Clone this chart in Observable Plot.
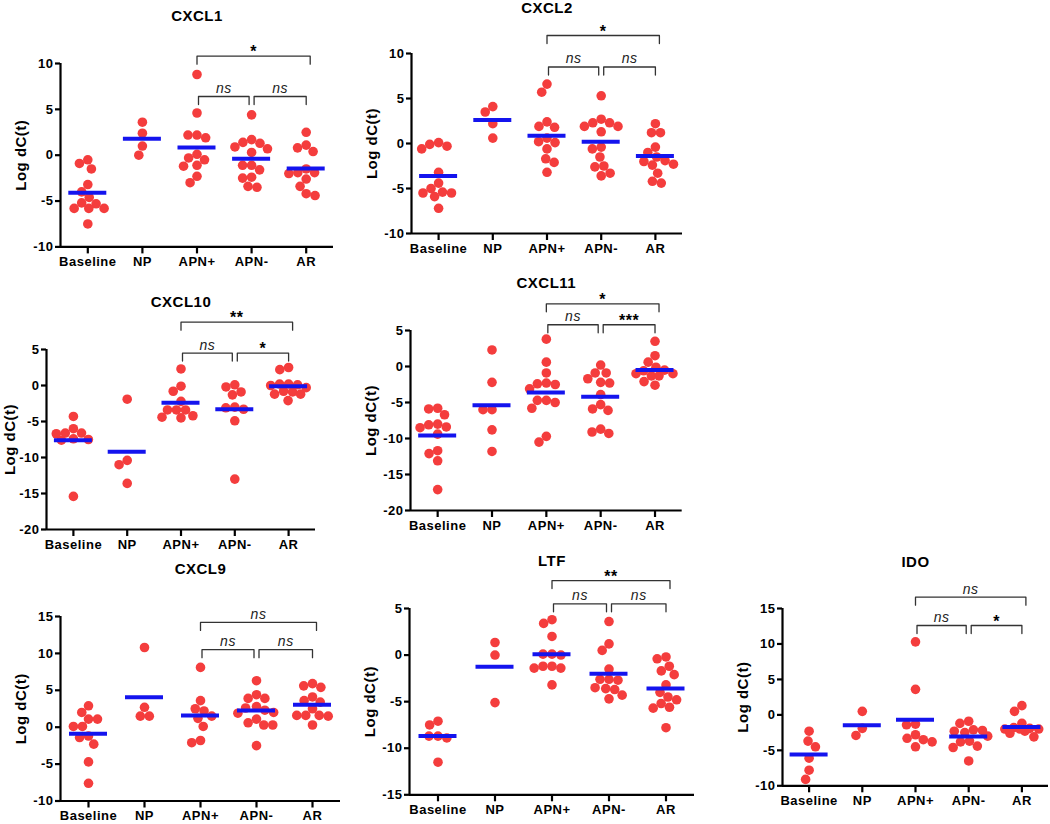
<!DOCTYPE html>
<html>
<head>
<meta charset="utf-8">
<script src="https://cdn.jsdelivr.net/npm/d3@7"></script>
<script src="https://cdn.jsdelivr.net/npm/@observablehq/plot@0.6"></script>
<style>
  html, body { margin: 0; padding: 0; background: #fff; }
  #page { position: relative; width: 1050px; height: 824px; overflow: hidden; background: #fff; }
  .panel { position: absolute; }
  .panel svg { display: block; max-width: none; overflow: visible; }
  .panel text { letter-spacing: 0.5px; }
</style>
</head>
<body>
<div id="page"></div>
<script>
// ---------------- DATA ----------------
const groups = ["Baseline", "NP", "APN+", "APN-", "AR"];
const yLabel = "Log dC(t)";

const cxcl1Values = {
  "Baseline": [-0.5, -0.9, -1.5, -3.2, -4.0, -4.6, -5.3, -5.2, -5.8, -5.8, -5.8, -7.5],
  "NP": [3.6, 2.4, 1.0, 0.0],
  "APN+": [8.8, 4.6, 2.2, 1.9, 2.2, 0.1, -0.5, -0.3, -1.2, -1.1, -2.3, -3.0],
  "APN-": [4.4, 1.4, 1.7, 1.3, 0.9, 0.7, 0.3, -1.1, -1.1, -1.6, -2.5, -2.4, -3.5, -3.4],
  "AR": [2.5, 1.1, 0.8, 0.4, -1.5, -1.9, -2.0, -1.9, -2.6, -3.4, -4.4, -4.2]
};
const cxcl1Means = [-4.1, 1.8, 0.85, -0.4, -1.45];
const cxcl1Brackets = [
  {from: "APN+", to: "AR", label: "*", y: 10.8},
  {from: "APN+", to: "APN-", label: "ns", y: 6.4},
  {from: "APN-", to: "AR", label: "ns", y: 6.4}
];
const cxcl1Ticks = [-10, -5, 0, 5, 10];

const cxcl2Values = {
  "Baseline": [-0.1, -0.6, -0.3, 0.1, -3.2, -4.4, -5.4, -5.5, -5.9, -5.5, -5.0, -7.2],
  "NP": [3.5, 4.1, 2.2, 0.6],
  "APN+": [6.6, 5.7, 1.9, 1.8, 2.4, 0.2, 0.1, 0.6, -0.6, -1.7, -2.1, -3.2],
  "APN-": [5.3, 2.3, 2.7, 1.9, 1.9, 2.3, 1.3, -0.4, -1.5, -0.6, -2.6, -2.5, -3.6, -3.3],
  "AR": [2.2, 1.2, 1.2, -0.4, -1.5, -1.0, -1.9, -2.0, -2.4, -2.3, -3.3, -4.4, -4.2]
};
const cxcl2Means = [-3.6, 2.6, 0.85, 0.2, -1.4];
const cxcl2Brackets = [
  {from: "APN+", to: "AR", label: "*", y: 12.0},
  {from: "APN+", to: "APN-", label: "ns", y: 8.5},
  {from: "APN-", to: "AR", label: "ns", y: 8.5}
];
const cxcl2Ticks = [-10, -5, 0, 5, 10];

const cxcl10Values = {
  "Baseline": [-4.3, -6.7, -6.0, -6.6, -6.6, -7.5, -7.6, -7.4, -15.4],
  "NP": [-1.9, -10.4, -11.0, -13.6],
  "APN+": [2.3, -0.1, -0.8, -2.2, -3.4, -3.4, -3.4, -4.2, -4.4, -4.5],
  "APN-": [0.1, -0.2, -0.9, -1.3, -3.0, -3.3, -3.1, -4.9, -13.0],
  "AR": [2.5, 2.2, 0.2, 0.0, 0.2, 0.1, -0.9, -1.2, -1.2, -0.8, -2.1, -0.3]
};
const cxcl10Means = [-7.6, -9.2, -2.4, -3.3, -0.1];
const cxcl10Brackets = [
  {from: "APN+", to: "AR", label: "**", y: 8.8},
  {from: "APN+", to: "APN-", label: "ns", y: 4.5},
  {from: "APN-", to: "AR", label: "*", y: 4.5}
];
const cxcl10Ticks = [-20, -15, -10, -5, 0, 5];

const cxcl11Values = {
  "Baseline": [-5.9, -5.8, -6.7, -8.0, -8.4, -8.1, -8.5, -9.4, -12.1, -11.7, -13.1, -17.1],
  "NP": [2.3, -2.2, -6.0, -6.0, -8.8, -11.8],
  "APN+": [3.8, 0.6, -0.9, -2.4, -3.1, -2.5, -2.3, -4.7, -5.0, -4.7, -5.8, -10.5, -9.7],
  "APN-": [0.2, -0.9, -0.9, -2.2, -2.3, -1.7, -3.9, -5.3, -5.9, -6.1, -8.7, -9.3, -9.1],
  "AR": [3.5, 1.5, 0.6, -1.3, -1.0, -0.6, -1.3, -1.0, -2.1, -2.6, -0.1, -0.5]
};
const cxcl11Means = [-9.6, -5.4, -3.6, -4.2, -0.5];
const cxcl11Brackets = [
  {from: "APN+", to: "AR", label: "*", y: 8.7},
  {from: "APN+", to: "APN-", label: "ns", y: 5.8},
  {from: "APN-", to: "AR", label: "***", y: 5.8}
];
const cxcl11Ticks = [-20, -15, -10, -5, 0, 5];

const cxcl9Values = {
  "Baseline": [2.9, 2.0, 1.1, 1.1, 0.1, 0.1, -1.2, -1.4, -2.3, -4.7, -7.6],
  "NP": [10.8, 2.7, 1.5, 1.5],
  "APN+": [8.1, 3.6, 2.2, 2.5, 1.2, 1.5, 0.1, -2.1, -1.8],
  "APN-": [6.3, 3.9, 3.9, 4.4, 2.3, 2.6, 2.8, 1.9, 1.1, 0.3, 0.3, 0.6, -2.5, 2.0],
  "AR": [5.9, 5.4, 5.6, 3.6, 4.1, 3.4, 2.5, 1.6, 1.6, 1.5, 1.6, 0.3]
};
const cxcl9Means = [-0.9, 4.05, 1.6, 2.25, 3.05];
const cxcl9Brackets = [
  {from: "APN+", to: "AR", label: "ns", y: 14.2},
  {from: "APN+", to: "APN-", label: "ns", y: 10.5},
  {from: "APN-", to: "AR", label: "ns", y: 10.5}
];
const cxcl9Ticks = [-10, -5, 0, 5, 10, 15];

const ltfValues = {
  "Baseline": [-7.1, -7.5, -8.7, -8.9, -8.7, -11.5],
  "NP": [1.35, 0.0, -5.1],
  "APN+": [3.8, 3.4, 2.0, 0.0, 0.1, 0.1, -1.2, -1.4, -1.4, -1.2, -3.2],
  "APN-": [3.6, 1.2, 0.5, -1.5, -2.6, -2.7, -2.6, -3.5, -3.7, -3.6, -4.3, -4.7],
  "AR": [-0.2, -0.4, -1.2, -1.7, -2.1, -3.2, -4.0, -4.5, -4.8, -5.6, -5.7, -5.2, -7.8]
};
const ltfMeans = [-8.7, -1.25, 0.1, -2.0, -3.6];
const ltfBrackets = [
  {from: "APN+", to: "AR", label: "**", y: 8.0},
  {from: "APN+", to: "APN-", label: "ns", y: 5.5},
  {from: "APN-", to: "AR", label: "ns", y: 5.5}
];
const ltfTicks = [-15, -10, -5, 0, 5];

const idoValues = {
  "Baseline": [-2.3, -3.7, -4.5, -6.1, -7.8, -9.1],
  "NP": [0.5, -2.9, -1.9],
  "APN+": [10.3, 3.6, -1.4, -1.3, -2.8, -3.5, -3.3, -3.8, -4.5],
  "APN-": [-0.9, -1.2, -2.2, -2.3, -2.5, -3.0, -3.7, -3.8, -4.4, -4.6, -6.5, -2.1],
  "AR": [1.3, 0.5, -1.2, -1.8, -2.0, -2.0, -3.1, -2.3, -1.9, -2.0, -2.6]
};
const idoMeans = [-5.6, -1.45, -0.7, -3.05, -1.7];
const idoBrackets = [
  {from: "APN+", to: "AR", label: "ns", y: 16.6},
  {from: "APN+", to: "APN-", label: "ns", y: 12.6},
  {from: "APN-", to: "AR", label: "*", y: 12.6}
];
const idoTicks = [-10, -5, 0, 5, 10, 15];

// ---------------- PANELS ----------------
const panels = [
  {title: "CXCL1",  values: cxcl1Values,  means: cxcl1Means,  brackets: cxcl1Brackets,  ticks: cxcl1Ticks},
  {title: "CXCL2",  values: cxcl2Values,  means: cxcl2Means,  brackets: cxcl2Brackets,  ticks: cxcl2Ticks},
  {title: "CXCL10", values: cxcl10Values, means: cxcl10Means, brackets: cxcl10Brackets, ticks: cxcl10Ticks},
  {title: "CXCL11", values: cxcl11Values, means: cxcl11Means, brackets: cxcl11Brackets, ticks: cxcl11Ticks},
  {title: "CXCL9",  values: cxcl9Values,  means: cxcl9Means,  brackets: cxcl9Brackets,  ticks: cxcl9Ticks},
  {title: "LTF",    values: ltfValues,    means: ltfMeans,    brackets: ltfBrackets,    ticks: ltfTicks},
  {title: "IDO",    values: idoValues,    means: idoMeans,    brackets: idoBrackets,    ticks: idoTicks}
];

// page layout of each panel's frame (left axis x, top/bottom tick y, x-axis end, title centre y, y-label offset)
const layout = {
  "CXCL1":  {left: 60,    top: 63.3,  bottom: 246.7, right: 333,    titleY: 16,    labelDx: -39},
  "CXCL2":  {left: 410.7, top: 53.3,  bottom: 233.3, right: 681.7,  titleY: 8,     labelDx: -39},
  "CXCL10": {left: 46,    top: 349,   bottom: 529,   right: 315,    titleY: 301.7, labelDx: -36},
  "CXCL11": {left: 410,   top: 330,   bottom: 510,   right: 681.7,  titleY: 282.7, labelDx: -39},
  "CXCL9":  {left: 60,    top: 616,   bottom: 800.5, right: 340,    titleY: 568.3, labelDx: -39},
  "LTF":    {left: 409,   top: 607.7, bottom: 794,   right: 694,    titleY: 560,   labelDx: -39},
  "IDO":    {left: 782.3, top: 607.7, bottom: 785,   right: 1048.3, titleY: 561.7, labelDx: -39}
};

const RED = "#f43d3d";
const BLUE = "#1414ee";
const FONT = "'Liberation Sans', Arial, Helvetica, sans-serif";

// deterministic beeswarm with a maximum half-width: offsets in pixels
function swarm(vals, pxY, rad, k, maxHalf) {
  const placed = [];
  const order = vals.map((v, i) => i).sort((a, b) => vals[b] - vals[a] || a - b);
  const out = new Array(vals.length).fill(0);
  for (const i of order) {
    const y = vals[i] * pxY * k;
    const iv = [];
    for (const p of placed) {
      const dy = Math.abs(p.y - y);
      if (dy < 2 * rad) {
        const w = Math.sqrt(4 * rad * rad - dy * dy);
        iv.push([p.x - w, p.x + w]);
      }
    }
    const cands = [0];
    iv.forEach(([a, b]) => cands.push(a, b));
    cands.sort((a, b) => Math.abs(a) - Math.abs(b) || a - b);
    let x = null;
    for (const c of cands) {
      if (Math.abs(c) > maxHalf + 1e-6) break;
      if (iv.every(([a, b]) => c <= a + 1e-6 || c >= b - 1e-6)) { x = c; break; }
    }
    if (x === null) {
      // no free slot inside the column: take the least crowded position
      let best = 0, bestD = -1;
      for (let c = -maxHalf; c <= maxHalf + 1e-6; c += 1) {
        let dmin = Infinity;
        for (const p of placed) dmin = Math.min(dmin, Math.hypot(p.x - c, p.y - y));
        if (dmin > bestD) { bestD = dmin; best = c; }
      }
      x = best;
    }
    placed.push({x, y});
    out[i] = x;
  }
  return out;
}

const page = document.getElementById("page");
const ML = 64, MT = 72, MR = 14, MB = 40;

for (const p of panels) {
  const L = layout[p.title];
  const fw = L.right - L.left, fh = L.bottom - L.top;
  const ymin = d3.min(p.ticks), ymax = d3.max(p.ticks);
  const pxX = fw / 5, pxY = fh / (ymax - ymin);

  // dots
  const dots = [];
  groups.forEach((g, gi) => {
    const vals = p.values[g];
    const offs = swarm(vals, pxY, 4.5, 0.9, 19);
    vals.forEach((v, i) => dots.push({group: g, gi, value: v, x: gi + offs[i] / pxX}));
  });

  // means
  const half = 19 / pxX;
  const meanRows = groups.map((g, gi) => ({group: g, x1: gi - half, x2: gi + half, mean: p.means[gi]}));

  // brackets
  const leg = 8 / pxY;
  const bLines = [], bLabels = [];
  p.brackets.forEach((b, bi) => {
    let xa = groups.indexOf(b.from), xb = groups.indexOf(b.to);
    const sharedEnd = p.brackets.some((o) => o !== b && o.y === b.y && o.from === b.to);
    const sharedStart = p.brackets.some((o) => o !== b && o.y === b.y && o.to === b.from);
    if (sharedEnd) xb -= 2.5 / pxX;
    if (sharedStart) xa += 2.5 / pxX;
    if (xb - xa > 1.5) xb += 4 / pxX;
    if (sharedEnd) xa += 1.5 / pxX;
    bLines.push({k: bi, x: xa, y: b.y - leg}, {k: bi, x: xa, y: b.y}, {k: bi, x: xb, y: b.y}, {k: bi, x: xb, y: b.y - leg});
    bLabels.push({x: (xa + xb) / 2, y: b.y, label: b.label});
  });
  const nsLabels = bLabels.filter((d) => d.label === "ns");
  const starLabels = bLabels.filter((d) => d.label !== "ns");

  const chart = Plot.plot({
    width: fw + ML + MR,
    height: fh + MT + MB,
    marginLeft: ML, marginTop: MT, marginRight: MR, marginBottom: MB,
    style: {background: "transparent", fontFamily: FONT, fontSize: "13px", fontWeight: "bold", color: "#000", overflow: "visible"},
    x: {type: "linear", domain: [-0.5, 4.5]},
    y: {type: "linear", domain: [ymin, ymax]},
    marks: [
      Plot.axisY({ticks: p.ticks, tickSize: 5, tickPadding: 2, strokeWidth: 2.2, label: null, tickFormat: (d) => String(d)}),
      Plot.axisX({ticks: [0, 1, 2, 3, 4], tickSize: 7, tickPadding: 3, strokeWidth: 2.2, label: null, tickFormat: (i) => groups[i]}),
      Plot.ruleX([-0.5], {y1: ymin, y2: ymax, stroke: "#000", strokeWidth: 2.2}),
      Plot.ruleY([ymin], {x1: -0.5, x2: 4.5, stroke: "#000", strokeWidth: 2.2}),
      Plot.dot(dots, {x: "x", y: "value", r: 4.8, fill: RED, stroke: "none"}),
      Plot.ruleY(meanRows, {x1: "x1", x2: "x2", y: "mean", stroke: BLUE, strokeWidth: 4}),
      Plot.line(bLines, {x: "x", y: "y", z: "k", stroke: "#333", strokeWidth: 1.3, curve: "linear"}),
      Plot.text(nsLabels, {x: "x", y: "y", text: "label", dy: -8, fontSize: 14, fontStyle: "italic", fontWeight: "normal", fill: "#222"}),
      Plot.text(starLabels, {x: "x", y: "y", text: "label", dy: -4, fontSize: 16, fontWeight: "bold", fill: "#000"}),
      Plot.text([p.title], {frameAnchor: "top", lineAnchor: "middle", textAnchor: "middle", dy: L.titleY - L.top, fontSize: 15, fontWeight: "bold", fill: "#000"}),
      Plot.text([yLabel], {frameAnchor: "left", textAnchor: "middle", lineAnchor: "middle", dx: L.labelDx, rotate: -90, fontSize: 15, fontWeight: "bold", fill: "#000"})
    ]
  });

  const div = document.createElement("div");
  div.className = "panel";
  div.style.left = (L.left - ML) + "px";
  div.style.top = (L.top - MT) + "px";
  div.appendChild(chart);
  page.appendChild(div);
}
</script>
</body>
</html>
